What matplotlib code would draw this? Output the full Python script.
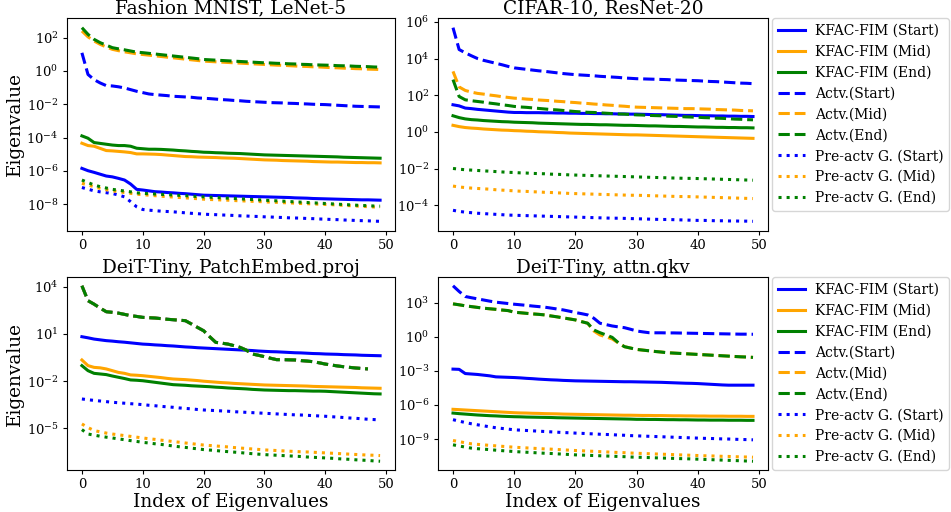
import numpy as np
import matplotlib
matplotlib.use("Agg")
import matplotlib.pyplot as plt

# log10 of the top-50 eigenvalues
idx = np.arange(50)
nan = np.nan

# --- Fashion MNIST, LeNet-5 ---
fm_kfac_start = [-5.85, -5.99, -6.09, -6.2, -6.31, -6.36, -6.45, -6.55, -6.79, -7.11, -7.15, -7.2, -7.25, -7.27, -7.3, -7.32, -7.35, -7.37, -7.4, -7.43, -7.46, -7.47, -7.48, -7.49, -7.5, -7.51, -7.52, -7.53, -7.54, -7.55, -7.56, -7.57, -7.58, -7.59, -7.6, -7.62, -7.63, -7.64, -7.66, -7.67, -7.68, -7.69, -7.7, -7.71, -7.72, -7.73, -7.74, -7.74, -7.75, -7.76]
fm_kfac_mid = [-4.34, -4.48, -4.52, -4.65, -4.78, -4.8, -4.83, -4.86, -4.9, -4.98, -4.98, -4.99, -5.0, -5.02, -5.05, -5.08, -5.11, -5.14, -5.15, -5.17, -5.18, -5.19, -5.2, -5.22, -5.23, -5.24, -5.26, -5.28, -5.3, -5.32, -5.34, -5.35, -5.36, -5.38, -5.39, -5.4, -5.41, -5.42, -5.44, -5.45, -5.46, -5.47, -5.47, -5.48, -5.49, -5.5, -5.5, -5.51, -5.51, -5.52]
fm_kfac_end = [-3.9, -4.04, -4.3, -4.35, -4.4, -4.45, -4.48, -4.48, -4.52, -4.64, -4.67, -4.7, -4.7, -4.71, -4.73, -4.75, -4.78, -4.8, -4.83, -4.85, -4.88, -4.89, -4.91, -4.92, -4.94, -4.95, -4.96, -4.98, -5.0, -5.02, -5.04, -5.05, -5.06, -5.07, -5.08, -5.09, -5.1, -5.11, -5.12, -5.13, -5.14, -5.15, -5.16, -5.18, -5.19, -5.2, -5.21, -5.22, -5.23, -5.24]
fm_actv_start = [1.09, -0.21, -0.52, -0.72, -0.88, -0.9, -0.95, -1.02, -1.12, -1.22, -1.3, -1.38, -1.42, -1.45, -1.48, -1.52, -1.54, -1.56, -1.58, -1.62, -1.64, -1.66, -1.69, -1.72, -1.74, -1.77, -1.79, -1.82, -1.84, -1.86, -1.88, -1.9, -1.91, -1.92, -1.94, -1.95, -1.97, -1.98, -2.0, -2.01, -2.02, -2.04, -2.06, -2.08, -2.1, -2.12, -2.13, -2.14, -2.15, -2.16]
fm_actv_mid = [2.4, 2.05, 1.8, 1.6, 1.44, 1.3, 1.22, 1.15, 1.09, 1.03, 0.99, 0.95, 0.91, 0.87, 0.83, 0.79, 0.75, 0.71, 0.67, 0.63, 0.59, 0.57, 0.55, 0.53, 0.51, 0.49, 0.47, 0.45, 0.43, 0.41, 0.39, 0.37, 0.35, 0.34, 0.32, 0.3, 0.28, 0.27, 0.25, 0.24, 0.22, 0.2, 0.19, 0.17, 0.16, 0.14, 0.13, 0.11, 0.1, 0.09]
fm_actv_end = [2.6, 2.2, 1.9, 1.7, 1.55, 1.4, 1.33, 1.27, 1.2, 1.13, 1.1, 1.06, 1.02, 0.98, 0.94, 0.9, 0.86, 0.82, 0.78, 0.74, 0.69, 0.67, 0.65, 0.63, 0.61, 0.59, 0.57, 0.55, 0.53, 0.51, 0.49, 0.48, 0.46, 0.45, 0.43, 0.42, 0.4, 0.39, 0.37, 0.36, 0.35, 0.34, 0.32, 0.31, 0.3, 0.28, 0.27, 0.26, 0.24, 0.23]
fm_pre_start = [-7.0, -7.1, -7.2, -7.26, -7.31, -7.36, -7.45, -7.56, -7.85, -8.16, -8.32, -8.36, -8.39, -8.42, -8.44, -8.46, -8.49, -8.52, -8.55, -8.57, -8.6, -8.62, -8.63, -8.65, -8.66, -8.68, -8.7, -8.71, -8.73, -8.74, -8.76, -8.77, -8.79, -8.8, -8.82, -8.83, -8.84, -8.86, -8.87, -8.89, -8.9, -8.92, -8.93, -8.95, -8.96, -8.98, -8.99, -9.0, -9.02, -9.03]
fm_pre_mid = [-6.75, -6.85, -6.95, -7.05, -7.13, -7.2, -7.25, -7.3, -7.35, -7.4, -7.43, -7.46, -7.49, -7.52, -7.55, -7.57, -7.6, -7.62, -7.65, -7.67, -7.7, -7.72, -7.73, -7.75, -7.76, -7.78, -7.8, -7.81, -7.83, -7.84, -7.86, -7.88, -7.89, -7.91, -7.92, -7.94, -7.96, -7.97, -7.99, -8.0, -8.02, -8.03, -8.05, -8.07, -8.09, -8.11, -8.13, -8.15, -8.17, -8.2]
fm_pre_end = [-6.55, -6.7, -6.85, -6.95, -7.03, -7.11, -7.16, -7.21, -7.26, -7.32, -7.35, -7.37, -7.39, -7.41, -7.43, -7.45, -7.47, -7.49, -7.52, -7.54, -7.56, -7.58, -7.6, -7.62, -7.64, -7.66, -7.68, -7.7, -7.72, -7.74, -7.76, -7.78, -7.8, -7.82, -7.84, -7.86, -7.88, -7.9, -7.92, -7.94, -7.96, -7.98, -8.0, -8.02, -8.04, -8.06, -8.08, -8.09, -8.11, -8.12]

# --- CIFAR-10, ResNet-20 ---
cf_kfac_start = [1.48, 1.42, 1.3, 1.27, 1.23, 1.2, 1.17, 1.14, 1.11, 1.08, 1.06, 1.06, 1.05, 1.05, 1.05, 1.04, 1.04, 1.03, 1.03, 1.02, 1.02, 1.01, 1.01, 1.0, 1.0, 0.99, 0.99, 0.98, 0.98, 0.97, 0.97, 0.96, 0.95, 0.94, 0.94, 0.93, 0.92, 0.91, 0.9, 0.9, 0.89, 0.88, 0.88, 0.87, 0.87, 0.86, 0.86, 0.85, 0.85, 0.84]
cf_kfac_mid = [0.36, 0.29, 0.24, 0.21, 0.19, 0.16, 0.14, 0.12, 0.1, 0.09, 0.07, 0.06, 0.04, 0.03, 0.01, 0.0, -0.01, -0.03, -0.04, -0.06, -0.07, -0.08, -0.09, -0.1, -0.11, -0.12, -0.13, -0.14, -0.15, -0.16, -0.16, -0.17, -0.18, -0.19, -0.2, -0.21, -0.22, -0.23, -0.24, -0.25, -0.26, -0.27, -0.28, -0.29, -0.3, -0.31, -0.32, -0.33, -0.34, -0.35]
cf_kfac_end = [0.88, 0.78, 0.71, 0.67, 0.65, 0.62, 0.6, 0.58, 0.56, 0.55, 0.53, 0.52, 0.51, 0.5, 0.48, 0.47, 0.46, 0.45, 0.44, 0.43, 0.42, 0.41, 0.41, 0.4, 0.39, 0.39, 0.38, 0.37, 0.36, 0.36, 0.35, 0.34, 0.33, 0.33, 0.32, 0.31, 0.3, 0.3, 0.29, 0.28, 0.27, 0.27, 0.26, 0.25, 0.25, 0.24, 0.24, 0.23, 0.23, 0.22]
cf_actv_start = [5.68, 4.49, 4.31, 4.15, 4.0, 3.9, 3.82, 3.74, 3.66, 3.57, 3.49, 3.45, 3.41, 3.37, 3.33, 3.3, 3.26, 3.22, 3.18, 3.15, 3.12, 3.1, 3.08, 3.06, 3.03, 3.01, 2.99, 2.97, 2.94, 2.92, 2.9, 2.89, 2.88, 2.87, 2.86, 2.85, 2.83, 2.82, 2.81, 2.8, 2.79, 2.77, 2.75, 2.74, 2.72, 2.7, 2.68, 2.66, 2.65, 2.63]
cf_actv_mid = [3.3, 2.45, 2.26, 2.17, 2.1, 2.06, 2.01, 1.97, 1.92, 1.88, 1.84, 1.82, 1.79, 1.77, 1.74, 1.72, 1.7, 1.67, 1.65, 1.62, 1.6, 1.57, 1.55, 1.52, 1.5, 1.47, 1.45, 1.42, 1.4, 1.37, 1.35, 1.34, 1.33, 1.32, 1.31, 1.3, 1.29, 1.28, 1.27, 1.27, 1.26, 1.25, 1.24, 1.22, 1.21, 1.2, 1.19, 1.17, 1.16, 1.15]
cf_actv_end = [2.85, 1.93, 1.75, 1.7, 1.66, 1.62, 1.57, 1.53, 1.48, 1.44, 1.39, 1.36, 1.34, 1.31, 1.28, 1.25, 1.22, 1.2, 1.17, 1.14, 1.11, 1.09, 1.07, 1.06, 1.04, 1.02, 1.0, 0.98, 0.97, 0.95, 0.93, 0.92, 0.9, 0.89, 0.88, 0.86, 0.85, 0.84, 0.82, 0.81, 0.8, 0.78, 0.77, 0.75, 0.74, 0.72, 0.7, 0.69, 0.67, 0.66]
cf_pre_start = [-4.27, -4.33, -4.37, -4.4, -4.43, -4.45, -4.47, -4.49, -4.51, -4.53, -4.54, -4.55, -4.56, -4.57, -4.58, -4.59, -4.6, -4.61, -4.62, -4.63, -4.64, -4.65, -4.66, -4.67, -4.68, -4.69, -4.7, -4.7, -4.71, -4.72, -4.73, -4.74, -4.75, -4.76, -4.77, -4.77, -4.78, -4.79, -4.8, -4.81, -4.82, -4.82, -4.83, -4.84, -4.84, -4.85, -4.85, -4.86, -4.86, -4.87]
cf_pre_mid = [-2.95, -3.0, -3.03, -3.06, -3.08, -3.1, -3.12, -3.15, -3.17, -3.19, -3.21, -3.23, -3.24, -3.26, -3.27, -3.29, -3.3, -3.32, -3.33, -3.35, -3.36, -3.37, -3.38, -3.39, -3.4, -3.41, -3.42, -3.43, -3.44, -3.45, -3.45, -3.46, -3.47, -3.48, -3.49, -3.5, -3.51, -3.52, -3.52, -3.53, -3.54, -3.55, -3.56, -3.57, -3.58, -3.59, -3.6, -3.61, -3.62, -3.63]
cf_pre_end = [-1.99, -2.03, -2.06, -2.08, -2.1, -2.12, -2.14, -2.16, -2.18, -2.2, -2.21, -2.23, -2.24, -2.26, -2.27, -2.28, -2.3, -2.31, -2.32, -2.34, -2.35, -2.36, -2.37, -2.38, -2.39, -2.4, -2.41, -2.42, -2.43, -2.44, -2.45, -2.46, -2.47, -2.48, -2.49, -2.5, -2.51, -2.52, -2.53, -2.53, -2.54, -2.55, -2.56, -2.57, -2.58, -2.59, -2.6, -2.61, -2.62, -2.63]

# --- DeiT-Tiny, PatchEmbed.proj ---
pe_kfac_start = [0.83, 0.76, 0.68, 0.63, 0.58, 0.55, 0.51, 0.48, 0.44, 0.4, 0.36, 0.34, 0.31, 0.29, 0.26, 0.24, 0.21, 0.18, 0.16, 0.13, 0.11, 0.09, 0.07, 0.05, 0.03, 0.01, -0.01, -0.03, -0.05, -0.08, -0.1, -0.12, -0.13, -0.15, -0.17, -0.19, -0.2, -0.22, -0.24, -0.25, -0.27, -0.28, -0.29, -0.31, -0.32, -0.33, -0.35, -0.36, -0.37, -0.38]
pe_kfac_mid = [-0.65, -1.01, -1.12, -1.15, -1.22, -1.33, -1.44, -1.5, -1.6, -1.62, -1.65, -1.69, -1.73, -1.77, -1.82, -1.86, -1.88, -1.9, -1.93, -1.96, -2.0, -2.03, -2.06, -2.09, -2.11, -2.14, -2.16, -2.18, -2.2, -2.22, -2.24, -2.25, -2.26, -2.27, -2.28, -2.29, -2.3, -2.31, -2.33, -2.34, -2.35, -2.36, -2.37, -2.38, -2.39, -2.4, -2.42, -2.43, -2.44, -2.45]
pe_kfac_end = [-1.01, -1.33, -1.5, -1.54, -1.58, -1.67, -1.75, -1.83, -1.92, -1.94, -1.97, -2.02, -2.07, -2.12, -2.17, -2.22, -2.24, -2.26, -2.29, -2.31, -2.33, -2.35, -2.38, -2.4, -2.43, -2.45, -2.47, -2.49, -2.52, -2.54, -2.56, -2.57, -2.58, -2.59, -2.6, -2.6, -2.61, -2.62, -2.63, -2.63, -2.64, -2.66, -2.68, -2.7, -2.72, -2.74, -2.76, -2.78, -2.8, -2.81]
pe_actv_start = [4.07, 3.12, 2.9, 2.65, 2.42, 2.38, 2.33, 2.25, 2.17, 2.12, 2.06, 2.04, 2.02, 1.98, 1.94, 1.91, 1.88, 1.85, 1.64, 1.42, 1.21, 0.83, 0.47, 0.42, 0.36, 0.26, 0.15, -0.02, -0.27, -0.35, -0.44, -0.54, -0.63, -0.63, -0.64, -0.65, -0.69, -0.72, -0.76, -0.83, -0.91, -0.97, -1.03, -1.08, -1.12, -1.16, -1.19, -1.22, nan, nan]
pe_actv_mid = [4.07, 3.12, 2.9, 2.65, 2.42, 2.38, 2.33, 2.25, 2.17, 2.12, 2.06, 2.04, 2.02, 1.98, 1.94, 1.91, 1.88, 1.85, 1.64, 1.42, 1.21, 0.83, 0.47, 0.42, 0.36, 0.26, 0.15, -0.02, -0.27, -0.35, -0.44, -0.54, -0.63, -0.63, -0.64, -0.65, -0.69, -0.72, -0.76, -0.83, -0.91, -0.97, -1.03, -1.08, -1.12, -1.16, -1.19, -1.22, nan, nan]
pe_actv_end = [4.07, 3.12, 2.9, 2.65, 2.42, 2.38, 2.33, 2.25, 2.17, 2.12, 2.06, 2.04, 2.02, 1.98, 1.94, 1.91, 1.88, 1.85, 1.64, 1.42, 1.21, 0.83, 0.47, 0.42, 0.36, 0.26, 0.15, -0.02, -0.27, -0.35, -0.44, -0.54, -0.63, -0.63, -0.64, -0.65, -0.69, -0.72, -0.76, -0.83, -0.91, -0.97, -1.03, -1.08, -1.12, -1.16, -1.19, -1.22, nan, nan]
pe_pre_start = [-3.13, -3.18, -3.22, -3.26, -3.3, -3.34, -3.37, -3.4, -3.43, -3.46, -3.49, -3.53, -3.56, -3.6, -3.63, -3.66, -3.7, -3.73, -3.76, -3.8, -3.83, -3.85, -3.87, -3.89, -3.91, -3.94, -3.96, -3.98, -4.0, -4.02, -4.04, -4.06, -4.08, -4.1, -4.12, -4.14, -4.15, -4.17, -4.19, -4.21, -4.23, -4.26, -4.28, -4.31, -4.34, -4.36, -4.39, -4.42, -4.44, -4.47]
pe_pre_mid = [-4.72, -4.95, -5.14, -5.22, -5.3, -5.36, -5.41, -5.46, -5.51, -5.56, -5.61, -5.66, -5.7, -5.75, -5.79, -5.84, -5.88, -5.93, -5.97, -6.02, -6.06, -6.09, -6.12, -6.15, -6.18, -6.22, -6.25, -6.28, -6.31, -6.34, -6.37, -6.39, -6.41, -6.43, -6.45, -6.47, -6.49, -6.5, -6.52, -6.54, -6.56, -6.58, -6.6, -6.62, -6.64, -6.66, -6.68, -6.7, -6.71, -6.73]
pe_pre_end = [-5.08, -5.36, -5.43, -5.5, -5.56, -5.61, -5.67, -5.72, -5.78, -5.83, -5.89, -5.93, -5.98, -6.02, -6.07, -6.12, -6.17, -6.21, -6.26, -6.3, -6.35, -6.38, -6.41, -6.45, -6.48, -6.51, -6.54, -6.58, -6.61, -6.64, -6.67, -6.69, -6.71, -6.73, -6.75, -6.77, -6.79, -6.82, -6.84, -6.86, -6.88, -6.9, -6.93, -6.95, -6.97, -7.0, -7.02, -7.04, -7.07, -7.09]

# --- DeiT-Tiny, attn.qkv ---
qkv_kfac_start = [-2.85, -2.87, -3.24, -3.28, -3.32, -3.38, -3.44, -3.53, -3.55, -3.57, -3.59, -3.62, -3.66, -3.69, -3.73, -3.76, -3.79, -3.81, -3.84, -3.86, -3.88, -3.89, -3.9, -3.91, -3.92, -3.93, -3.94, -3.95, -3.96, -3.96, -3.97, -3.98, -3.99, -4.0, -4.01, -4.03, -4.05, -4.07, -4.09, -4.1, -4.12, -4.15, -4.18, -4.21, -4.24, -4.26, -4.26, -4.26, -4.26, -4.26]
qkv_kfac_mid = [-6.38, -6.41, -6.44, -6.47, -6.5, -6.53, -6.56, -6.59, -6.62, -6.65, -6.68, -6.7, -6.71, -6.73, -6.74, -6.76, -6.77, -6.78, -6.8, -6.81, -6.82, -6.83, -6.84, -6.85, -6.86, -6.87, -6.88, -6.89, -6.9, -6.9, -6.91, -6.92, -6.92, -6.93, -6.93, -6.94, -6.95, -6.95, -6.96, -6.96, -6.97, -6.97, -6.98, -6.98, -6.98, -6.99, -6.99, -6.99, -7.0, -7.0]
qkv_kfac_end = [-6.71, -6.76, -6.8, -6.84, -6.88, -6.91, -6.94, -6.96, -6.99, -7.01, -7.03, -7.04, -7.06, -7.07, -7.08, -7.09, -7.1, -7.12, -7.13, -7.14, -7.15, -7.16, -7.17, -7.18, -7.19, -7.2, -7.21, -7.22, -7.23, -7.24, -7.26, -7.26, -7.27, -7.27, -7.28, -7.29, -7.29, -7.3, -7.3, -7.31, -7.32, -7.32, -7.33, -7.33, -7.33, -7.34, -7.34, -7.34, -7.35, -7.35]
qkv_actv_start = [4.47, 3.97, 3.53, 3.42, 3.32, 3.22, 3.12, 3.03, 2.97, 2.91, 2.85, 2.8, 2.75, 2.69, 2.64, 2.59, 2.51, 2.43, 2.35, 2.24, 2.12, 2.02, 1.91, 1.62, 1.18, 1.06, 0.94, 0.86, 0.79, 0.65, 0.5, 0.42, 0.35, 0.34, 0.34, 0.33, 0.33, 0.32, 0.31, 0.3, 0.29, 0.28, 0.27, 0.26, 0.25, 0.24, 0.23, 0.22, 0.22, 0.21]
qkv_actv_mid = [2.88, 2.8, 2.71, 2.64, 2.57, 2.5, 2.45, 2.4, 2.34, 2.29, 2.15, 2.1, 2.05, 2.0, 1.96, 1.91, 1.82, 1.74, 1.65, 1.56, 1.47, 1.32, 1.18, 0.5, 0.15, -0.02, -0.2, -0.55, -0.88, -1.0, -1.12, -1.18, -1.24, -1.3, -1.35, -1.41, -1.44, -1.47, -1.5, -1.53, -1.56, -1.59, -1.62, -1.65, -1.68, -1.71, -1.74, -1.77, -1.79, -1.82]
qkv_actv_end = [2.88, 2.8, 2.71, 2.64, 2.57, 2.5, 2.45, 2.4, 2.34, 2.29, 2.15, 2.1, 2.05, 2.0, 1.96, 1.91, 1.82, 1.74, 1.65, 1.56, 1.47, 1.32, 1.18, 0.59, 0.35, 0.15, -0.06, -0.53, -0.88, -1.0, -1.12, -1.18, -1.24, -1.3, -1.35, -1.41, -1.44, -1.47, -1.5, -1.53, -1.56, -1.59, -1.62, -1.65, -1.68, -1.71, -1.74, -1.77, -1.79, -1.82]
qkv_pre_start = [-7.29, -7.42, -7.54, -7.65, -7.74, -7.83, -7.92, -8.0, -8.06, -8.12, -8.18, -8.21, -8.24, -8.27, -8.3, -8.33, -8.36, -8.39, -8.42, -8.44, -8.47, -8.49, -8.52, -8.54, -8.57, -8.59, -8.61, -8.64, -8.66, -8.69, -8.71, -8.73, -8.75, -8.77, -8.79, -8.81, -8.83, -8.85, -8.87, -8.89, -8.91, -8.93, -8.94, -8.96, -8.98, -8.99, -9.01, -9.03, -9.04, -9.06]
qkv_pre_mid = [-9.12, -9.22, -9.32, -9.41, -9.46, -9.5, -9.55, -9.59, -9.63, -9.67, -9.71, -9.74, -9.77, -9.8, -9.83, -9.86, -9.88, -9.91, -9.94, -9.97, -10.0, -10.02, -10.05, -10.07, -10.1, -10.12, -10.15, -10.17, -10.19, -10.22, -10.24, -10.26, -10.28, -10.3, -10.32, -10.34, -10.36, -10.38, -10.4, -10.42, -10.44, -10.46, -10.47, -10.49, -10.51, -10.52, -10.54, -10.56, -10.57, -10.59]
qkv_pre_end = [-9.5, -9.6, -9.7, -9.79, -9.84, -9.88, -9.92, -9.97, -10.01, -10.05, -10.09, -10.12, -10.15, -10.18, -10.21, -10.24, -10.26, -10.29, -10.32, -10.35, -10.38, -10.4, -10.42, -10.44, -10.46, -10.48, -10.5, -10.52, -10.54, -10.57, -10.59, -10.6, -10.62, -10.64, -10.66, -10.67, -10.69, -10.71, -10.72, -10.74, -10.76, -10.78, -10.8, -10.82, -10.84, -10.86, -10.88, -10.9, -10.92, -10.94]

titles = ["Fashion MNIST, LeNet-5", "CIFAR-10, ResNet-20",
          "DeiT-Tiny, PatchEmbed.proj", "DeiT-Tiny, attn.qkv"]
labels = ["KFAC-FIM (Start)", "KFAC-FIM (Mid)", "KFAC-FIM (End)",
          "Actv.(Start)", "Actv.(Mid)", "Actv.(End)",
          "Pre-actv G. (Start)", "Pre-actv G. (Mid)", "Pre-actv G. (End)"]
# decade exponents shown on each y axis
ytick_exps = [[-8, -6, -4, -2, 0, 2], [-4, -2, 0, 2, 4, 6],
              [-5, -2, 1, 4], [-9, -6, -3, 0, 3]]

panels = [
    [fm_kfac_start, fm_kfac_mid, fm_kfac_end, fm_actv_start, fm_actv_mid, fm_actv_end, fm_pre_start, fm_pre_mid, fm_pre_end],
    [cf_kfac_start, cf_kfac_mid, cf_kfac_end, cf_actv_start, cf_actv_mid, cf_actv_end, cf_pre_start, cf_pre_mid, cf_pre_end],
    [pe_kfac_start, pe_kfac_mid, pe_kfac_end, pe_actv_start, pe_actv_mid, pe_actv_end, pe_pre_start, pe_pre_mid, pe_pre_end],
    [qkv_kfac_start, qkv_kfac_mid, qkv_kfac_end, qkv_actv_start, qkv_actv_mid, qkv_actv_end, qkv_pre_start, qkv_pre_mid, qkv_pre_end],
]

colors = ["blue", "orange", "green"]
styles = ["-", "--", ":"]

plt.rcParams["font.family"] = ["DejaVu Serif"]
plt.rcParams["mathtext.fontset"] = "dejavuserif"

fig = plt.figure(figsize=(9.51, 5.12), dpi=100)
W, H = 951, 512
# axes boxes in pixels: (left, top, right, bottom)
boxes = [(67, 18, 395, 231), (438, 18, 768, 231),
         (67, 277, 395, 470), (438, 277, 768, 470)]

for k, (l, t, r, b) in enumerate(boxes):
    ax = fig.add_axes([l / W, 1 - b / H, (r - l) / W, (b - t) / H])
    for j, series in enumerate(panels[k]):
        ax.plot(idx, 10 ** np.array(series, dtype=float), color=colors[j % 3],
                linestyle=styles[j // 3], linewidth=2.2, label=labels[j])
    ax.set_yscale("log")
    ax.set_yticks([10.0 ** e for e in ytick_exps[k]])
    ax.minorticks_off()
    ax.set_title(titles[k], fontsize=13.3, pad=3)
    ax.set_xticks([0, 10, 20, 30, 40, 50])
    ax.tick_params(labelsize=9.5, length=3, pad=3)
    if k % 2 == 0:
        ax.set_ylabel("Eigenvalue", fontsize=13.3, labelpad=2)
    if k >= 2:
        ax.set_xlabel("Index of Eigenvalues", fontsize=13.3, labelpad=1)
    if k % 2 == 1:
        ax.legend(loc="upper left", bbox_to_anchor=(1.012, 1.0), borderaxespad=0,
                  fontsize=10, handlelength=2.0, handletextpad=0.7)

plt.savefig("out.png", dpi=100)
